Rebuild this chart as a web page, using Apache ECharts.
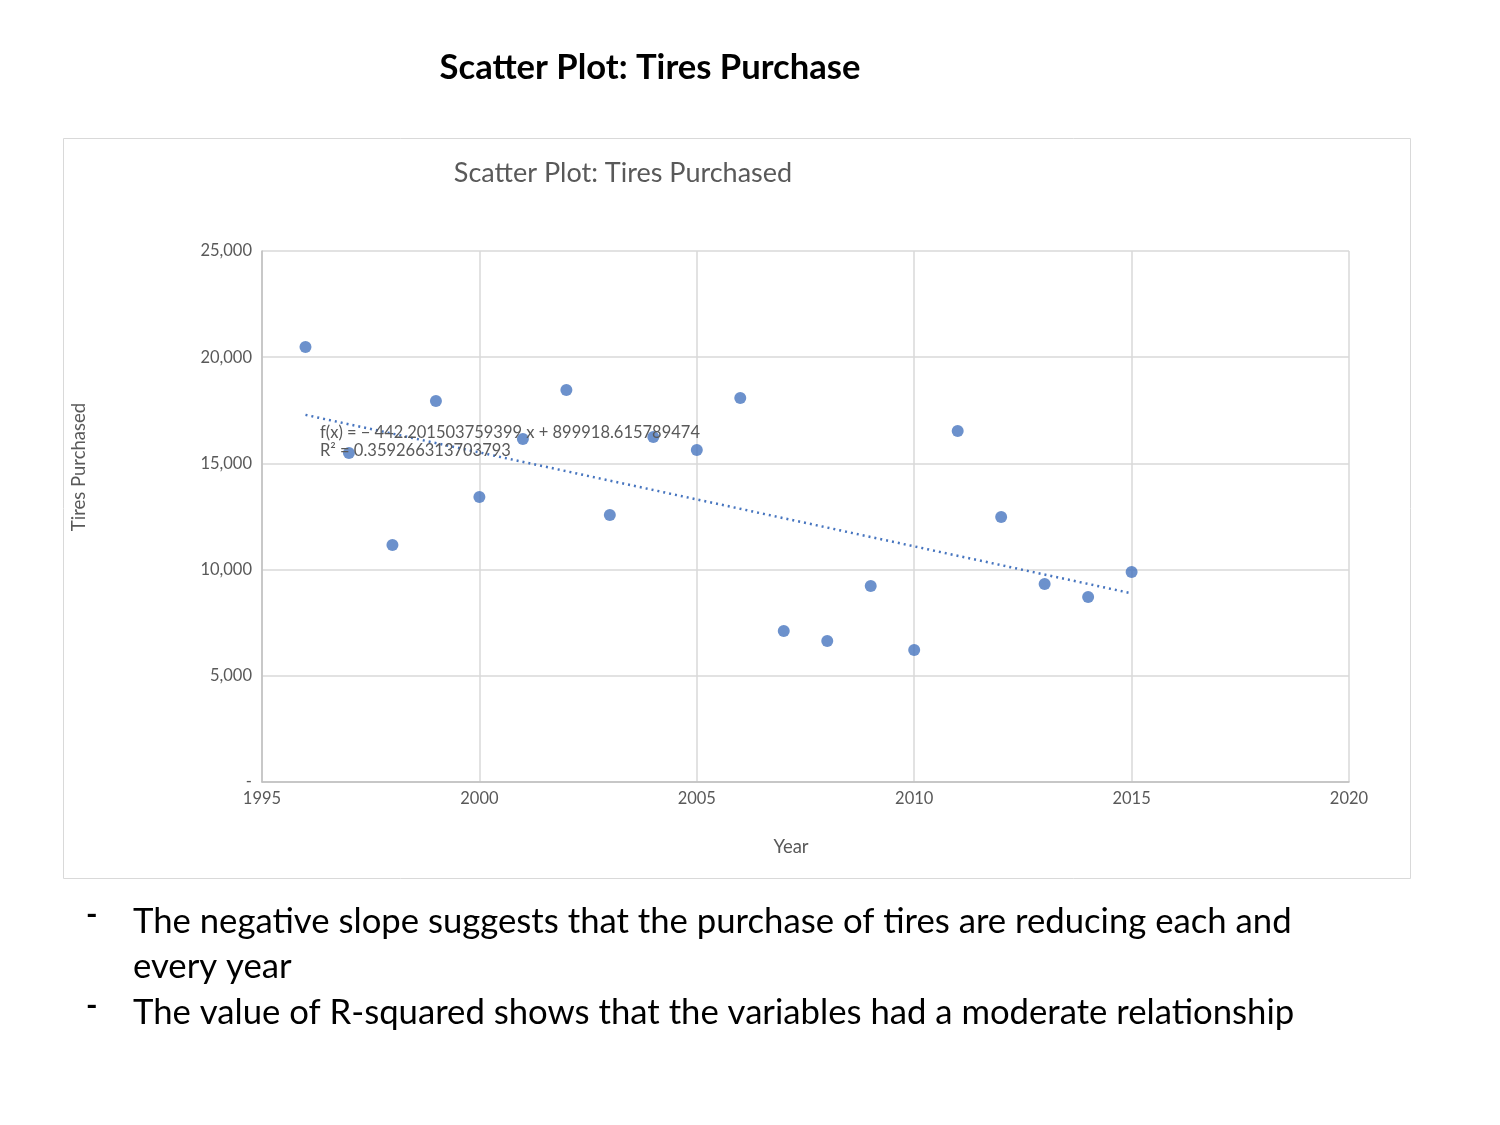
<!DOCTYPE html>
<html>
<head>
<meta charset="utf-8">
<script src="https://cdn.jsdelivr.net/npm/echarts@6/dist/echarts.min.js"></script>
<style>
html,body{margin:0;padding:0;background:#fff;}
#main{width:1500px;height:1125px;}
</style>
</head>
<body>
<div id="main"></div>
<script>
const years = [1996,1997,1998,1999,2000,2001,2002,2003,2004,2005,2006,2007,2008,2009,2010,2011,2012,2013,2014,2015];
const tiresPurchased = [20480,15490,11160,17940,13420,16150,18460,12570,16240,15630,18080,7110,6640,9230,6210,16530,12480,9320,8710,9890];
const trendSlope = -442.201503759399;
const trendIntercept = 899918.615789474;
const trendRange = [1996, 2015];
const equationLines = ['f(x) = − 442.201503759399 x + 899918.615789474', 'R² = 0.359266313703793'];
const bullets = [
  ['The negative slope suggests that the purchase of tires are reducing each and', 'every year'],
  ['The value of R-squared shows that the variables had a moderate relationship']
];

const FONT = 'Lato, Carlito, "Open Sans", sans-serif';
const GRAY = '#595959';
const MARK = '#4775bf';
const chart = echarts.init(document.getElementById('main'));

const trendData = trendRange.map(x => [x, trendSlope * x + trendIntercept]);

const graphics = [
  {type:'rect', shape:{x:63.5,y:138.5,width:1347,height:740}, style:{fill:'none',stroke:'#d9d9d9',lineWidth:1}, z:-1},
  {type:'text', left:320, top:424, style:{text:equationLines.join('\n'), font:'16.5px '+FONT, fill:GRAY, lineHeight:18}, z:10},
  {type:'text', x:791, y:847, style:{text:'Year', font:'18.5px '+FONT, fill:GRAY, align:'center', verticalAlign:'middle'}},
  {type:'text', x:79, y:467, rotation:Math.PI/2, style:{text:'Tires Purchased', font:'18.5px '+FONT, fill:GRAY, align:'center', verticalAlign:'middle'}}
];
let yPos = 904;
bullets.forEach(b => {
  graphics.push({type:'text', left:86, top:yPos - 5, style:{text:'-', font:'bold 31px '+FONT, fill:'#000'}});
  b.forEach(line => {
    graphics.push({type:'text', left:133, top:yPos, style:{text:line, font:'34.7px '+FONT, fill:'#000'}});
    yPos += 45.5;
  });
});

chart.setOption({
  animation:false,
  title:[
    {text:'Scatter Plot: Tires Purchase', left:645, top:45, textAlign:'center',
     textStyle:{fontFamily:FONT, fontSize:34.6, fontWeight:'bold', color:'#000'}},
    {text:'Scatter Plot: Tires Purchased', left:618, top:155, textAlign:'center',
     textStyle:{fontFamily:FONT, fontSize:27, fontWeight:'normal', color:GRAY}}
  ],
  grid:{left:262, top:251, right:151, bottom:343, containLabel:false},
  xAxis:{
    type:'value', min:1995, max:2020, interval:5,
    axisLine:{show:true, lineStyle:{color:'#bfbfbf', width:1.5}},
    axisTick:{show:false},
    axisLabel:{fontFamily:FONT, fontSize:16.5, color:GRAY, margin:8, formatter:v => String(v)},
    splitLine:{show:true, lineStyle:{color:'#d9d9d9', width:1.5}}
  },
  yAxis:{
    type:'value', min:0, max:25000, interval:5000,
    axisLine:{show:true, lineStyle:{color:'#bfbfbf', width:1.5}},
    axisTick:{show:false},
    axisLabel:{fontFamily:FONT, fontSize:16.5, color:GRAY, margin:10,
      formatter:v => v === 0 ? '-' : v.toLocaleString('en-US')},
    splitLine:{show:true, lineStyle:{color:'#d9d9d9', width:1.5}}
  },
  graphic:graphics,
  series:[
    {type:'line', data:trendData, symbol:'none', silent:true,
     lineStyle:{color:MARK, width:2.5, type:[2,4]}, z:2},
    {type:'scatter', data:years.map((y,i)=>[y, tiresPurchased[i]]),
     symbol:'circle', symbolSize:12, itemStyle:{color:MARK}, z:3}
  ]
});
</script>
</body>
</html>
